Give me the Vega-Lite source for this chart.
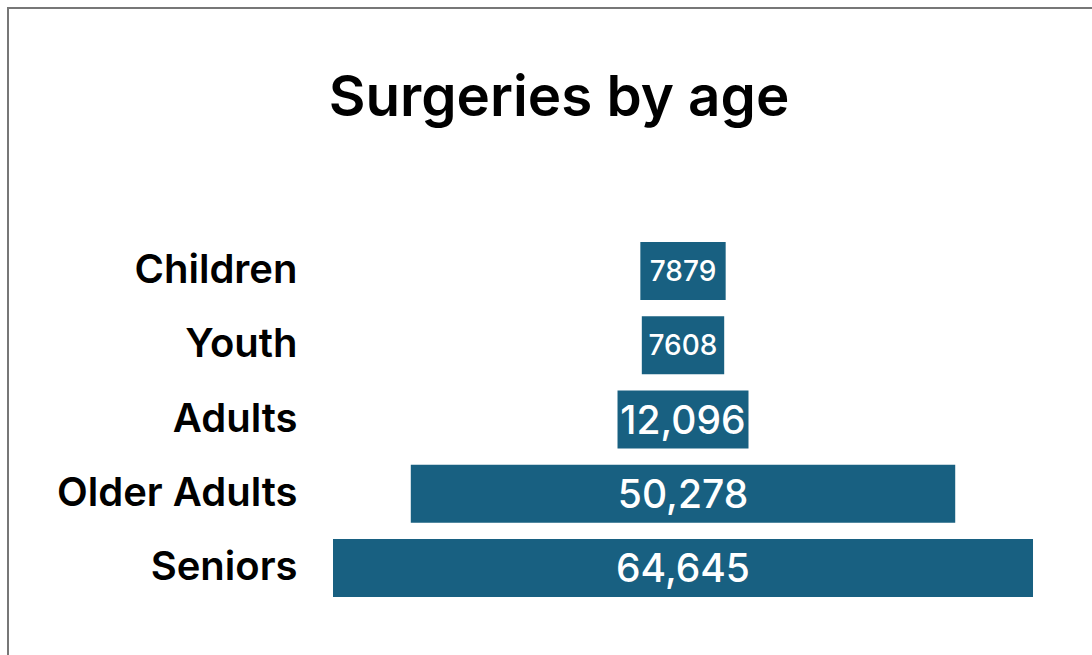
{
  "$schema": "https://vega.github.io/schema/vega-lite/v6.json",
  "autosize": {"type": "none"},
  "padding": {"left": 8, "top": 8, "right": -6, "bottom": -6},
  "width": 1090,
  "height": 653,
  "background": "white",
  "title": {
    "text": "Surgeries by age",
    "orient": "top",
    "anchor": "middle",
    "baseline": "alphabetic",
    "offset": -164,
    "dx": 6,
    "font": "Inter",
    "fontSize": 56.5,
    "fontWeight": 600,
    "color": "#000000"
  },
  "config": {
    "view": {"stroke": "#777777", "strokeWidth": 2},
    "font": "Inter"
  },
  "data": {
    "values": [
      {"age": "Children", "value": 7879, "label": "7879"},
      {"age": "Youth", "value": 7608, "label": "7608"},
      {"age": "Adults", "value": 12096, "label": "12,096"},
      {"age": "Older Adults", "value": 50278, "label": "50,278"},
      {"age": "Seniors", "value": 64645, "label": "64,645"}
    ]
  },
  "encoding": {
    "y": {
      "field": "age",
      "type": "nominal",
      "sort": null,
      "scale": {"paddingInner": 0.219, "paddingOuter": 0, "range": [234, 589]},
      "axis": {
        "title": null,
        "orient": "left",
        "offset": -289,
        "domain": false,
        "ticks": false,
        "tickSize": 0,
        "labelPadding": 0,
        "labelLimit": 0,
        "labelFont": "Inter",
        "labelFontSize": 40,
        "labelFontWeight": 600,
        "labelColor": "#000000",
        "labelAlign": "right",
        "labelBaseline": "middle",
        "grid": false
      }
    }
  },
  "layer": [
    {
      "mark": {"type": "bar", "color": "#186081"},
      "encoding": {
        "x": {
          "field": "value",
          "type": "quantitative",
          "stack": "center",
          "scale": {"domain": [-30014, 70647], "nice": false, "zero": false},
          "axis": null
        }
      }
    },
    {
      "mark": {"type": "text", "color": "white", "font": "Inter", "fontWeight": 500, "baseline": "middle", "align": "center", "dy": 2},
      "encoding": {
        "x": {"datum": 32322.5, "type": "quantitative"},
        "text": {"field": "label"},
        "size": {"condition": {"test": "datum.value < 10000", "value": 28}, "value": 39}
      }
    }
  ]
}
